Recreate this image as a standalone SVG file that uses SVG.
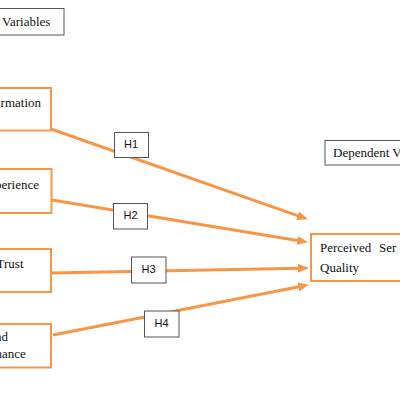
<svg xmlns="http://www.w3.org/2000/svg" width="400" height="400" viewBox="0 0 400 400">
<style>
.obox{fill:#fff;stroke:#F79646;stroke-width:2}
.gbox{fill:#fff;stroke:#555;stroke-width:1}
.t{font-family:"Liberation Serif","Times New Roman",serif;font-size:13px;fill:#111}
.h{font-family:"Liberation Sans",Arial,sans-serif;font-size:11px;fill:#111;text-anchor:middle}
.c{stroke:#F79646;stroke-width:3;fill:none}
</style>
<defs>
<marker id="ah" markerUnits="userSpaceOnUse" markerWidth="11" markerHeight="9" refX="2" refY="4.5" orient="auto">
<path d="M0,0 L11,4.5 L0,9 Z" fill="#F79646"/>
</marker>
</defs>
<rect width="400" height="400" fill="#fff"/>
<g id="independent-title">
<rect class="gbox" x="-5" y="8.5" width="69" height="26.5"/>
<text class="t" x="2" y="26">Variables</text>
</g>
<g id="dependent-title">
<rect class="gbox" x="325" y="140.5" width="90" height="24.5"/>
<text class="t" x="333" y="157">Dependent V</text>
</g>
<g id="connectors">
<line class="c" x1="51" y1="129" x2="299.5" y2="216.3" marker-end="url(#ah)"/>
<line class="c" x1="52" y1="200" x2="299.1" y2="240.7" marker-end="url(#ah)"/>
<line class="c" x1="51" y1="273" x2="300" y2="268.2" marker-end="url(#ah)"/>
<line class="c" x1="53" y1="335" x2="300.2" y2="286.5" marker-end="url(#ah)"/>
</g>
<g id="node-information">
<rect class="obox" x="-10" y="88" width="61" height="42.5"/>
<text class="t" x="41" y="107" text-anchor="end">rmation</text>
</g>
<g id="node-experience">
<rect class="obox" x="-10" y="169" width="61.5" height="44"/>
<text class="t" x="39" y="189" text-anchor="end">perience</text>
</g>
<g id="node-trust">
<rect class="obox" x="-10" y="249" width="61" height="43"/>
<text class="t" x="23.5" y="268" text-anchor="end">Trust</text>
</g>
<g id="node-performance">
<rect class="obox" x="-10" y="324" width="61" height="43.5"/>
<text class="t" x="8" y="341" text-anchor="end">nd</text>
<text class="t" x="25.7" y="358" text-anchor="end">nance</text>
</g>
<g id="node-psq">
<rect class="obox" x="311" y="234" width="100" height="47"/>
<text class="t" x="320" y="252">Perceived</text>
<text class="t" x="379" y="252">Ser</text>
<text class="t" x="320" y="272">Quality</text>
</g>
<g id="label-h1">
<rect class="gbox" x="114.5" y="132.5" width="34" height="25"/>
<text class="h" x="131" y="148">H1</text>
</g>
<g id="label-h2">
<rect class="gbox" x="113.5" y="203.5" width="34" height="25.5"/>
<text class="h" x="130.5" y="219">H2</text>
</g>
<g id="label-h3">
<rect class="gbox" x="131.5" y="257" width="34.5" height="26"/>
<text class="h" x="148.5" y="273">H3</text>
</g>
<g id="label-h4">
<rect class="gbox" x="144.5" y="311" width="34.5" height="26"/>
<text class="h" x="161.5" y="327">H4</text>
</g>
</svg>
